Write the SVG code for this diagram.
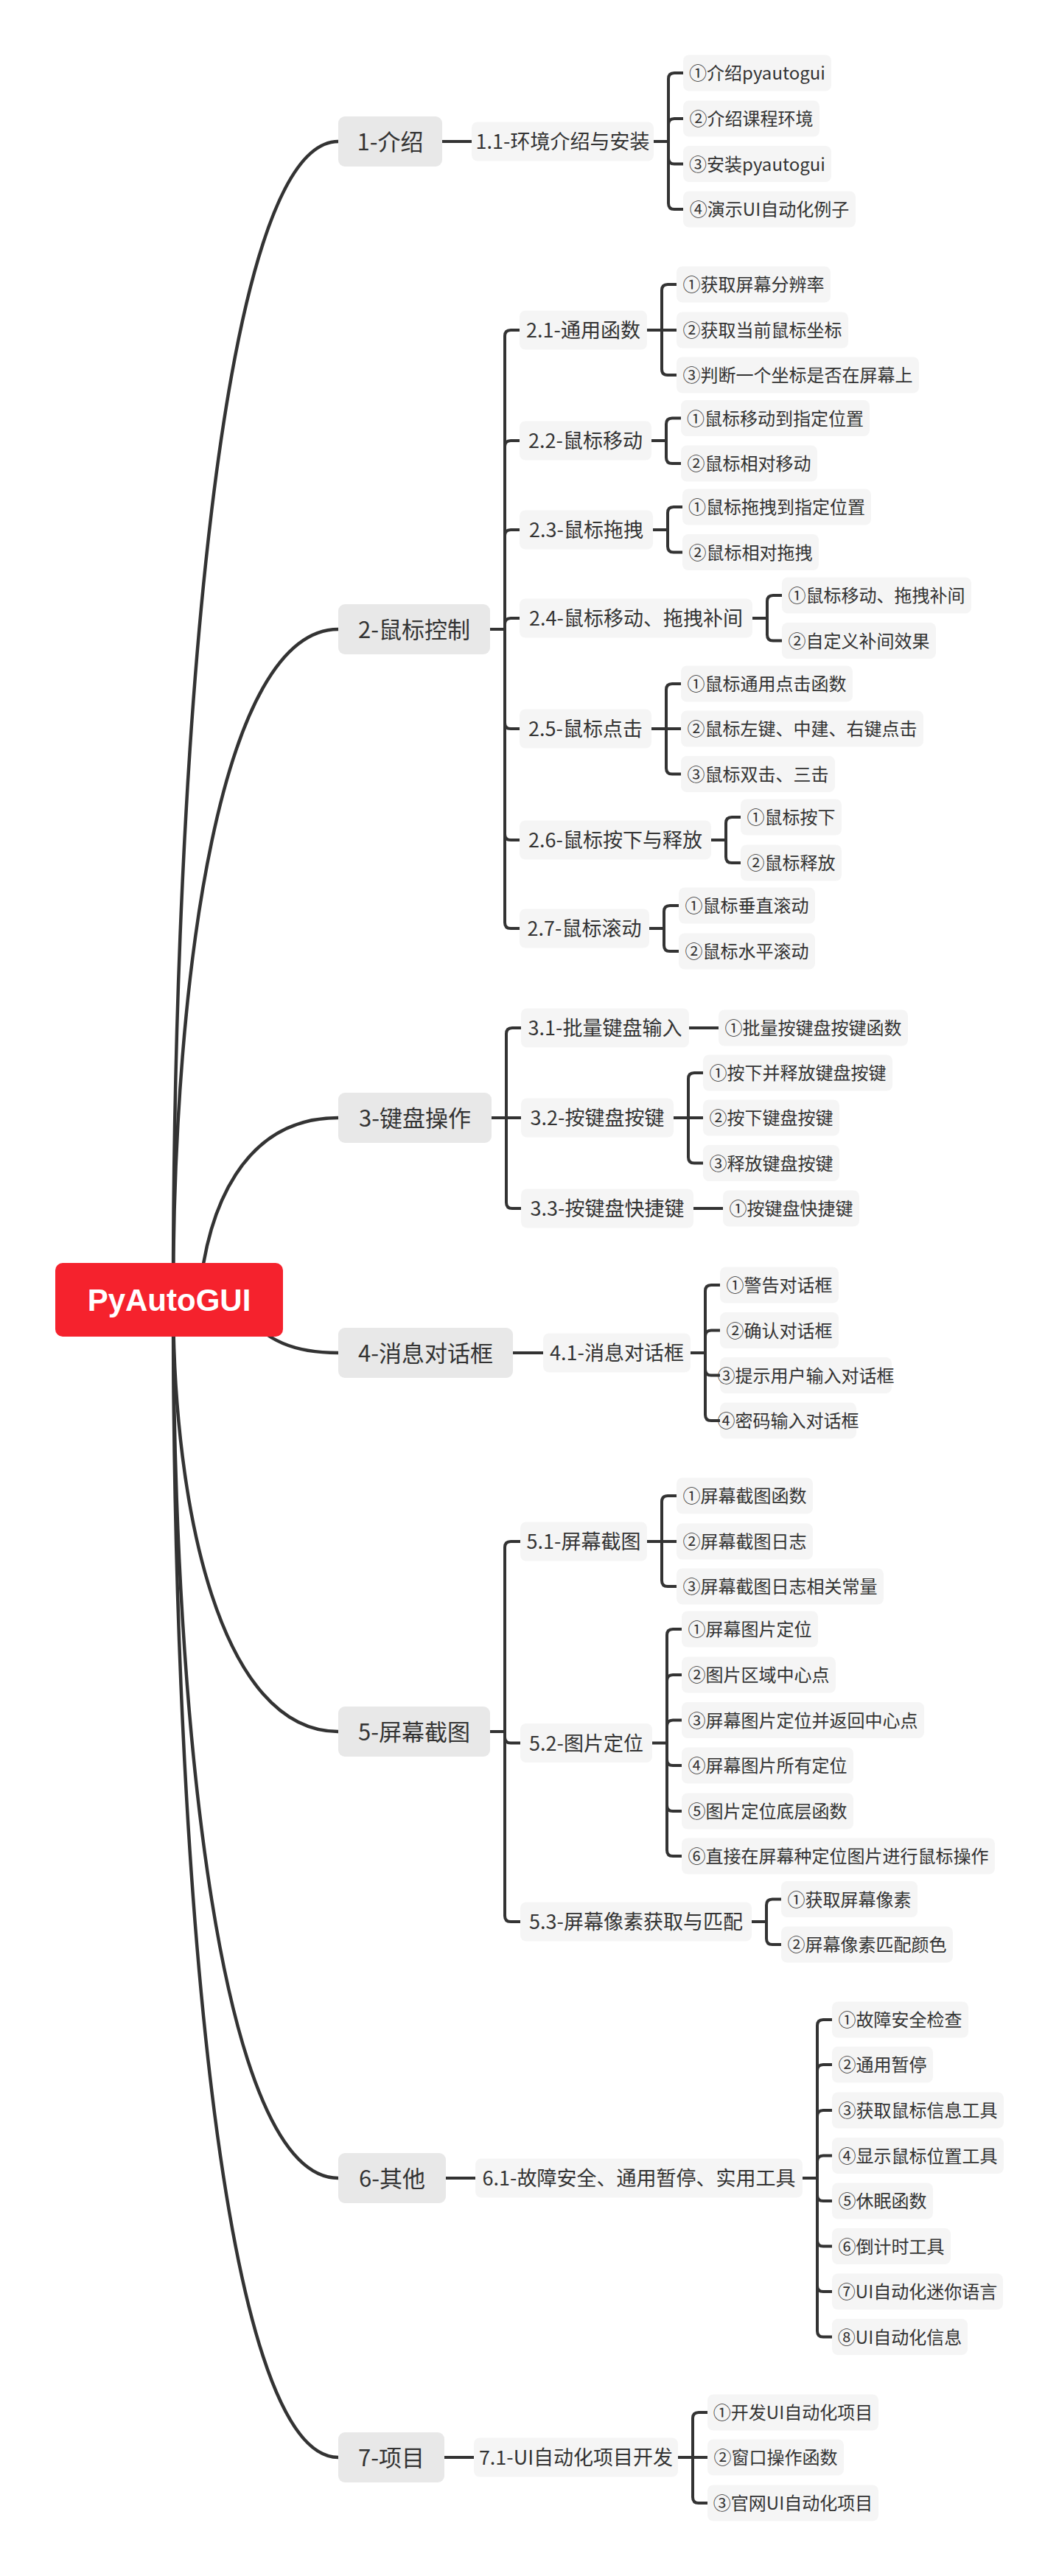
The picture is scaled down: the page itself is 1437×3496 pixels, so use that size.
<svg xmlns="http://www.w3.org/2000/svg" width="1437" height="3496" viewBox="0 0 1437 3496">
<style>
text{font-family:"Noto Sans CJK SC","Noto Sans",sans-serif;fill:#333;text-anchor:middle}
.root rect{fill:#f5222d}
.root text{font-family:"Liberation Sans",Arial,sans-serif;font-weight:bold;font-size:42px;fill:#fff}
.l1 rect{fill:#e8e8e8}
.l1 text{font-size:31px}
.l2 rect{fill:#f5f5f5}
.l2 text{font-size:27px}
.l3 rect{fill:#f5f5f5}
.l3 text{font-size:24px}
#connectors path{fill:none;stroke:#333;stroke-width:4}
#connectors path.main{stroke-width:4.5}
</style>
<rect width="1437" height="3496" fill="#fff"/>
<g id="connectors">
<path class="main" d="M235,1764 C235,1000 300,192 459,192"/>
<path class="main" d="M235,1764 C235,1318 300,854 459,854"/>
<path class="main" d="M270,1764 C280,1640 330,1517 459,1517"/>
<path class="main" d="M330,1780 C360,1820 400,1836 459,1836"/>
<path class="main" d="M235,1764 C235,2051 300,2350 459,2350"/>
<path class="main" d="M235,1764 C235,2348 300,2956 459,2956"/>
<path class="main" d="M235,1764 C235,2534 300,3335 459,3335"/>
<path d="M600,192 H640"/>
<path d="M887,192 H907 M907,192 V107 Q907,99 915,99 H927 M907,192 V169 Q907,161 915,161 H927 M907,192 V214.5 Q907,222.5 915,222.5 H927 M907,192 V276 Q907,284 915,284 H927"/>
<path d="M665,854 H685 M685,854 V456 Q685,448 693,448 H705 M685,854 V606 Q685,598 693,598 H705 M685,854 V727 Q685,719 693,719 H705 M685,854 V847 Q685,839 693,839 H705 M685,854 V981 Q685,989 693,989 H705 M685,854 V1132 Q685,1140 693,1140 H705 M685,854 V1252 Q685,1260 693,1260 H705"/>
<path d="M878,448 H918 M898,448 V394 Q898,386 906,386 H918 M898,448 V501 Q898,509 906,509 H918"/>
<path d="M884,598 H904 M904,598 V575.5 Q904,567.5 912,567.5 H924 M904,598 V621 Q904,629 912,629 H924"/>
<path d="M886,719 H906 M906,719 V696 Q906,688 914,688 H926 M906,719 V741.5 Q906,749.5 914,749.5 H926"/>
<path d="M1021,839 H1041 M1041,839 V816 Q1041,808 1049,808 H1061 M1041,839 V861.5 Q1041,869.5 1049,869.5 H1061"/>
<path d="M884,989 H924 M904,989 V936 Q904,928 912,928 H924 M904,989 V1042.5 Q904,1050.5 912,1050.5 H924"/>
<path d="M965,1140 H985 M985,1140 V1117 Q985,1109 993,1109 H1005 M985,1140 V1163 Q985,1171 993,1171 H1005"/>
<path d="M881,1260 H901 M901,1260 V1237 Q901,1229 909,1229 H921 M901,1260 V1283 Q901,1291 909,1291 H921"/>
<path d="M667,1517 H707 M687,1517 V1403 Q687,1395 695,1395 H707 M687,1517 V1632 Q687,1640 695,1640 H707"/>
<path d="M935,1395 H975"/>
<path d="M914,1517 H954 M934,1517 V1464 Q934,1456 942,1456 H954 M934,1517 V1570.5 Q934,1578.5 942,1578.5 H954"/>
<path d="M941,1640 H981"/>
<path d="M696,1836 H737"/>
<path d="M937,1836 H957 M957,1836 V1752 Q957,1744 965,1744 H977 M957,1836 V1813.5 Q957,1805.5 965,1805.5 H977 M957,1836 V1858.5 Q957,1866.5 965,1866.5 H977 M957,1836 V1920 Q957,1928 965,1928 H977"/>
<path d="M665,2350 H685 M685,2350 V2100 Q685,2092 693,2092 H706 M685,2350 V2357.5 Q685,2365.5 693,2365.5 H706 M685,2350 V2600 Q685,2608 693,2608 H706"/>
<path d="M878,2092 H918 M898,2092 V2038 Q898,2030 906,2030 H918 M898,2092 V2145 Q898,2153 906,2153 H918"/>
<path d="M885,2365.5 H905 M905,2365.5 V2219 Q905,2211 913,2211 H925 M905,2365.5 V2281 Q905,2273 913,2273 H925 M905,2365.5 V2342.5 Q905,2334.5 913,2334.5 H925 M905,2365.5 V2388 Q905,2396 913,2396 H925 M905,2365.5 V2450 Q905,2458 913,2458 H925 M905,2365.5 V2511 Q905,2519 913,2519 H925"/>
<path d="M1020,2608 H1040 M1040,2608 V2585.5 Q1040,2577.5 1048,2577.5 H1060 M1040,2608 V2631 Q1040,2639 1048,2639 H1060"/>
<path d="M605,2956 H645"/>
<path d="M1089,2956 H1109 M1109,2956 V2749 Q1109,2741 1117,2741 H1129 M1109,2956 V2810 Q1109,2802 1117,2802 H1129 M1109,2956 V2872 Q1109,2864 1117,2864 H1129 M1109,2956 V2933.5 Q1109,2925.5 1117,2925.5 H1129 M1109,2956 V2979 Q1109,2987 1117,2987 H1129 M1109,2956 V3040.5 Q1109,3048.5 1117,3048.5 H1129 M1109,2956 V3102 Q1109,3110 1117,3110 H1129 M1109,2956 V3163.5 Q1109,3171.5 1117,3171.5 H1129"/>
<path d="M603,3335 H643"/>
<path d="M920,3335 H960 M940,3335 V3282 Q940,3274 948,3274 H960 M940,3335 V3389 Q940,3397 948,3397 H960"/>
</g>
<g id="root" class="root"><rect x="75" y="1714" width="309" height="100" rx="10"/><text x="229.5" y="1779">PyAutoGUI</text></g>
<g id="n1" class="l1"><rect x="459" y="158" width="141" height="68" rx="9"/><text x="529.5" y="203.5">1-介绍</text></g>
<g id="n2" class="l1"><rect x="459" y="820" width="206" height="68" rx="9"/><text x="562" y="865.5">2-鼠标控制</text></g>
<g id="n3" class="l1"><rect x="459" y="1483" width="208" height="68" rx="9"/><text x="563" y="1528.5">3-键盘操作</text></g>
<g id="n4" class="l1"><rect x="459" y="1802" width="237" height="68" rx="9"/><text x="577.5" y="1847.5">4-消息对话框</text></g>
<g id="n5" class="l1"><rect x="459" y="2316" width="206" height="68" rx="9"/><text x="562" y="2361.5">5-屏幕截图</text></g>
<g id="n6" class="l1"><rect x="459" y="2922" width="146" height="68" rx="9"/><text x="532" y="2967.5">6-其他</text></g>
<g id="n7" class="l1"><rect x="459" y="3301" width="144" height="68" rx="9"/><text x="531" y="3346.5">7-项目</text></g>
<g id="n1_1" class="l2"><rect x="640" y="165.5" width="247" height="53" rx="8"/><text x="763.5" y="202">1.1-环境介绍与安装</text></g>
<g id="n2_1" class="l2"><rect x="705" y="421.5" width="173" height="53" rx="8"/><text x="791.5" y="458">2.1-通用函数</text></g>
<g id="n2_2" class="l2"><rect x="705" y="571.5" width="179" height="53" rx="8"/><text x="794.5" y="608">2.2-鼠标移动</text></g>
<g id="n2_3" class="l2"><rect x="705" y="692.5" width="181" height="53" rx="8"/><text x="795.5" y="729">2.3-鼠标拖拽</text></g>
<g id="n2_4" class="l2"><rect x="705" y="812.5" width="316" height="53" rx="8"/><text x="863" y="849">2.4-鼠标移动、拖拽补间</text></g>
<g id="n2_5" class="l2"><rect x="705" y="962.5" width="179" height="53" rx="8"/><text x="794.5" y="999">2.5-鼠标点击</text></g>
<g id="n2_6" class="l2"><rect x="705" y="1113.5" width="260" height="53" rx="8"/><text x="835" y="1150">2.6-鼠标按下与释放</text></g>
<g id="n2_7" class="l2"><rect x="705" y="1233.5" width="176" height="53" rx="8"/><text x="793" y="1270">2.7-鼠标滚动</text></g>
<g id="n3_1" class="l2"><rect x="707" y="1368.5" width="228" height="53" rx="8"/><text x="821" y="1405">3.1-批量键盘输入</text></g>
<g id="n3_2" class="l2"><rect x="707" y="1490.5" width="207" height="53" rx="8"/><text x="810.5" y="1527">3.2-按键盘按键</text></g>
<g id="n3_3" class="l2"><rect x="707" y="1613.5" width="234" height="53" rx="8"/><text x="824" y="1650">3.3-按键盘快捷键</text></g>
<g id="n4_1" class="l2"><rect x="737" y="1809.5" width="200" height="53" rx="8"/><text x="837" y="1846">4.1-消息对话框</text></g>
<g id="n5_1" class="l2"><rect x="706" y="2065.5" width="172" height="53" rx="8"/><text x="792" y="2102">5.1-屏幕截图</text></g>
<g id="n5_2" class="l2"><rect x="706" y="2339" width="179" height="53" rx="8"/><text x="795.5" y="2375.5">5.2-图片定位</text></g>
<g id="n5_3" class="l2"><rect x="706" y="2581.5" width="314" height="53" rx="8"/><text x="863" y="2618">5.3-屏幕像素获取与匹配</text></g>
<g id="n6_1" class="l2"><rect x="645" y="2929.5" width="444" height="53" rx="8"/><text x="867" y="2966">6.1-故障安全、通用暂停、实用工具</text></g>
<g id="n7_1" class="l2"><rect x="643" y="3308.5" width="277" height="53" rx="8"/><text x="781.5" y="3345">7.1-UI自动化项目开发</text></g>
<g id="n1_1_1" class="l3"><rect x="927" y="74.5" width="201" height="49" rx="8"/><text x="1027.5" y="108">①介绍pyautogui</text></g>
<g id="n1_1_2" class="l3"><rect x="927" y="136.5" width="185" height="49" rx="8"/><text x="1019.5" y="170">②介绍课程环境</text></g>
<g id="n1_1_3" class="l3"><rect x="927" y="198" width="201" height="49" rx="8"/><text x="1027.5" y="231.5">③安装pyautogui</text></g>
<g id="n1_1_4" class="l3"><rect x="927" y="259.5" width="234" height="49" rx="8"/><text x="1044" y="293">④演示UI自动化例子</text></g>
<g id="n2_1_1" class="l3"><rect x="918" y="361.5" width="209" height="49" rx="8"/><text x="1022.5" y="395">①获取屏幕分辨率</text></g>
<g id="n2_1_2" class="l3"><rect x="918" y="423.5" width="233" height="49" rx="8"/><text x="1034.5" y="457">②获取当前鼠标坐标</text></g>
<g id="n2_1_3" class="l3"><rect x="918" y="484.5" width="329" height="49" rx="8"/><text x="1082.5" y="518">③判断一个坐标是否在屏幕上</text></g>
<g id="n2_2_1" class="l3"><rect x="924" y="543" width="256" height="49" rx="8"/><text x="1052" y="576.5">①鼠标移动到指定位置</text></g>
<g id="n2_2_2" class="l3"><rect x="924" y="604.5" width="185" height="49" rx="8"/><text x="1016.5" y="638">②鼠标相对移动</text></g>
<g id="n2_3_1" class="l3"><rect x="926" y="663.5" width="256" height="49" rx="8"/><text x="1054" y="697">①鼠标拖拽到指定位置</text></g>
<g id="n2_3_2" class="l3"><rect x="926" y="725" width="185" height="49" rx="8"/><text x="1018.5" y="758.5">②鼠标相对拖拽</text></g>
<g id="n2_4_1" class="l3"><rect x="1061" y="783.5" width="257" height="49" rx="8"/><text x="1189.5" y="817">①鼠标移动、拖拽补间</text></g>
<g id="n2_4_2" class="l3"><rect x="1061" y="845" width="209" height="49" rx="8"/><text x="1165.5" y="878.5">②自定义补间效果</text></g>
<g id="n2_5_1" class="l3"><rect x="924" y="903.5" width="233" height="49" rx="8"/><text x="1040.5" y="937">①鼠标通用点击函数</text></g>
<g id="n2_5_2" class="l3"><rect x="924" y="964.5" width="329" height="49" rx="8"/><text x="1088.5" y="998">②鼠标左键、中建、右键点击</text></g>
<g id="n2_5_3" class="l3"><rect x="924" y="1026" width="209" height="49" rx="8"/><text x="1028.5" y="1059.5">③鼠标双击、三击</text></g>
<g id="n2_6_1" class="l3"><rect x="1005" y="1084.5" width="137" height="49" rx="8"/><text x="1073.5" y="1118">①鼠标按下</text></g>
<g id="n2_6_2" class="l3"><rect x="1005" y="1146.5" width="137" height="49" rx="8"/><text x="1073.5" y="1180">②鼠标释放</text></g>
<g id="n2_7_1" class="l3"><rect x="921" y="1204.5" width="185" height="49" rx="8"/><text x="1013.5" y="1238">①鼠标垂直滚动</text></g>
<g id="n2_7_2" class="l3"><rect x="921" y="1266.5" width="185" height="49" rx="8"/><text x="1013.5" y="1300">②鼠标水平滚动</text></g>
<g id="n3_1_1" class="l3"><rect x="975" y="1370.5" width="257" height="49" rx="8"/><text x="1103.5" y="1404">①批量按键盘按键函数</text></g>
<g id="n3_2_1" class="l3"><rect x="954" y="1431.5" width="257" height="49" rx="8"/><text x="1082.5" y="1465">①按下并释放键盘按键</text></g>
<g id="n3_2_2" class="l3"><rect x="954" y="1492.5" width="185" height="49" rx="8"/><text x="1046.5" y="1526">②按下键盘按键</text></g>
<g id="n3_2_3" class="l3"><rect x="954" y="1554" width="185" height="49" rx="8"/><text x="1046.5" y="1587.5">③释放键盘按键</text></g>
<g id="n3_3_1" class="l3"><rect x="981" y="1615.5" width="185" height="49" rx="8"/><text x="1073.5" y="1649">①按键盘快捷键</text></g>
<g id="n4_1_1" class="l3"><rect x="977" y="1719.5" width="161" height="49" rx="8"/><text x="1057.5" y="1753">①警告对话框</text></g>
<g id="n4_1_2" class="l3"><rect x="977" y="1781" width="161" height="49" rx="8"/><text x="1057.5" y="1814.5">②确认对话框</text></g>
<g id="n4_1_3" class="l3"><rect x="977" y="1842" width="233" height="49" rx="8"/><text x="1093.5" y="1875.5">③提示用户输入对话框</text></g>
<g id="n4_1_4" class="l3"><rect x="977" y="1903.5" width="185" height="49" rx="8"/><text x="1069.5" y="1937">④密码输入对话框</text></g>
<g id="n5_1_1" class="l3"><rect x="918" y="2005.5" width="185" height="49" rx="8"/><text x="1010.5" y="2039">①屏幕截图函数</text></g>
<g id="n5_1_2" class="l3"><rect x="918" y="2067.5" width="185" height="49" rx="8"/><text x="1010.5" y="2101">②屏幕截图日志</text></g>
<g id="n5_1_3" class="l3"><rect x="918" y="2128.5" width="281" height="49" rx="8"/><text x="1058.5" y="2162">③屏幕截图日志相关常量</text></g>
<g id="n5_2_1" class="l3"><rect x="925" y="2186.5" width="185" height="49" rx="8"/><text x="1017.5" y="2220">①屏幕图片定位</text></g>
<g id="n5_2_2" class="l3"><rect x="925" y="2248.5" width="209" height="49" rx="8"/><text x="1029.5" y="2282">②图片区域中心点</text></g>
<g id="n5_2_3" class="l3"><rect x="925" y="2310" width="329" height="49" rx="8"/><text x="1089.5" y="2343.5">③屏幕图片定位并返回中心点</text></g>
<g id="n5_2_4" class="l3"><rect x="925" y="2371.5" width="233" height="49" rx="8"/><text x="1041.5" y="2405">④屏幕图片所有定位</text></g>
<g id="n5_2_5" class="l3"><rect x="925" y="2433.5" width="233" height="49" rx="8"/><text x="1041.5" y="2467">⑤图片定位底层函数</text></g>
<g id="n5_2_6" class="l3"><rect x="925" y="2494.5" width="425" height="49" rx="8"/><text x="1137.5" y="2528">⑥直接在屏幕种定位图片进行鼠标操作</text></g>
<g id="n5_3_1" class="l3"><rect x="1060" y="2553" width="185" height="49" rx="8"/><text x="1152.5" y="2586.5">①获取屏幕像素</text></g>
<g id="n5_3_2" class="l3"><rect x="1060" y="2614.5" width="233" height="49" rx="8"/><text x="1176.5" y="2648">②屏幕像素匹配颜色</text></g>
<g id="n6_1_1" class="l3"><rect x="1129" y="2716.5" width="185" height="49" rx="8"/><text x="1221.5" y="2750">①故障安全检查</text></g>
<g id="n6_1_2" class="l3"><rect x="1129" y="2777.5" width="137" height="49" rx="8"/><text x="1197.5" y="2811">②通用暂停</text></g>
<g id="n6_1_3" class="l3"><rect x="1129" y="2839.5" width="233" height="49" rx="8"/><text x="1245.5" y="2873">③获取鼠标信息工具</text></g>
<g id="n6_1_4" class="l3"><rect x="1129" y="2901" width="233" height="49" rx="8"/><text x="1245.5" y="2934.5">④显示鼠标位置工具</text></g>
<g id="n6_1_5" class="l3"><rect x="1129" y="2962.5" width="137" height="49" rx="8"/><text x="1197.5" y="2996">⑤休眠函数</text></g>
<g id="n6_1_6" class="l3"><rect x="1129" y="3024" width="161" height="49" rx="8"/><text x="1209.5" y="3057.5">⑥倒计时工具</text></g>
<g id="n6_1_7" class="l3"><rect x="1129" y="3085.5" width="232" height="49" rx="8"/><text x="1245" y="3119">⑦UI自动化迷你语言</text></g>
<g id="n6_1_8" class="l3"><rect x="1129" y="3147" width="184" height="49" rx="8"/><text x="1221" y="3180.5">⑧UI自动化信息</text></g>
<g id="n7_1_1" class="l3"><rect x="960" y="3249.5" width="232" height="49" rx="8"/><text x="1076" y="3283">①开发UI自动化项目</text></g>
<g id="n7_1_2" class="l3"><rect x="960" y="3310.5" width="185" height="49" rx="8"/><text x="1052.5" y="3344">②窗口操作函数</text></g>
<g id="n7_1_3" class="l3"><rect x="960" y="3372.5" width="232" height="49" rx="8"/><text x="1076" y="3406">③官网UI自动化项目</text></g>
</svg>
